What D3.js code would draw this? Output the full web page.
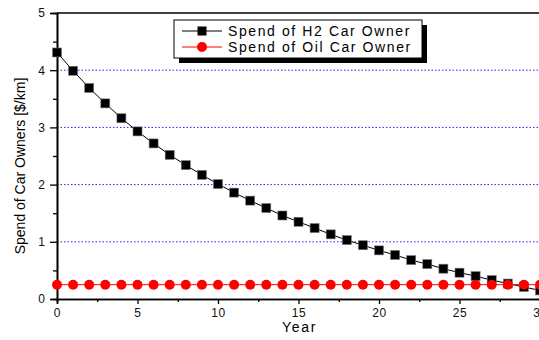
<!DOCTYPE html>
<html>
<head>
<meta charset="utf-8">
<script src="https://cdn.jsdelivr.net/npm/d3@7"></script>
<style>
  body { margin: 0; background: #fff; }
  text { font-family: "Liberation Sans", Arial, sans-serif; }
</style>
</head>
<body>
<div class="chart"></div>
<script>
const years = d3.range(0, 31)
const h2Spend = [4.31, 3.99, 3.69, 3.42, 3.16, 2.93, 2.72, 2.52, 2.34, 2.17, 2.01,
  1.86, 1.72, 1.59, 1.46, 1.35, 1.24, 1.13, 1.03, 0.94, 0.85,
  0.77, 0.68, 0.61, 0.53, 0.46, 0.40, 0.33, 0.27, 0.21, 0.15]
const oilSpend = years.map(() => 0.25)
const seriesNames = ['Spend of H2 Car Owner', 'Spend of Oil Car Owner']
const xTicks = [0, 5, 10, 15, 20, 25, 30]
const yTicks = [0, 1, 2, 3, 4, 5]

const margin = ({top: 13, right: -1, bottom: 41, left: 57})
const width = 539 - margin.left - margin.right
const height = 340 - margin.top - margin.bottom

const svg = d3.select('.chart').append('svg')
    .attr('width', 539)
    .attr('height', 340)
  .append('g')
    .attr('transform', `translate(${margin.left},${margin.top})`)

// SCALES
const xScale = d3.scaleLinear().domain([0, 30]).range([0, width])
const yScale = d3.scaleLinear().domain([0, 5]).range([height, 0])

// GRIDLINES
svg.append('g')
  .selectAll('line')
  .data(yTicks.filter(d => d > 0 && d < 5))
  .join('line')
    .attr('x1', 0)
    .attr('x2', width)
    .attr('y1', d => yScale(d))
    .attr('y2', d => yScale(d))
    .attr('stroke', '#2222ff')
    .attr('stroke-width', 1)
    .attr('stroke-dasharray', '1.5,2')

// AXES
const xAxis = d3.axisBottom(xScale).tickValues(xTicks).tickSize(5).tickPadding(4).tickFormat(d3.format('d'))
const xMinor = d3.axisBottom(xScale).tickValues(d3.range(2.5, 30, 5)).tickSize(3).tickFormat('')
const yAxis = d3.axisLeft(yScale).tickValues(yTicks).tickSize(7).tickPadding(5).tickFormat(d3.format('d'))
const yMinor = d3.axisLeft(yScale).tickValues(d3.range(0.5, 5, 1)).tickSize(4).tickFormat('')

function styleAxis(g) {
  g.select('.domain').attr('stroke-width', 1.6)
  g.selectAll('.tick line').attr('stroke-width', 1.3)
  g.selectAll('.tick text')
    .attr('font-size', 12)
    .attr('fill', '#111')
    .style('font-family', '"Liberation Sans", Arial, sans-serif')
}

svg.append('g').attr('transform', `translate(0,${height})`).call(xMinor).call(styleAxis)
svg.append('g').attr('transform', `translate(0,${height})`).call(xAxis).call(styleAxis)
  .selectAll('.tick text').style('letter-spacing', '0.6px')
svg.append('g').call(yMinor).call(styleAxis)
svg.append('g').call(yAxis).call(styleAxis)

// top frame
svg.append('line')
  .attr('x1', 0).attr('x2', width)
  .attr('y1', 0).attr('y2', 0)
  .attr('stroke', '#000')
  .attr('stroke-width', 1.6)

// AXIS TITLES
svg.append('text')
  .attr('x', width / 2 + 1)
  .attr('y', height + 33)
  .attr('text-anchor', 'middle')
  .attr('font-size', 14)
  .style('letter-spacing', '1.7px')
  .text('Year')

svg.append('text')
  .attr('transform', `translate(${20 - margin.left},${166 - margin.top}) rotate(-90)`)
  .attr('text-anchor', 'middle')
  .attr('dy', '0.35em')
  .attr('font-size', 14)
  .text('Spend of Car Owners [$/km]')

// LINES
const line = d3.line()
  .x((d, i) => xScale(years[i]))
  .y(d => yScale(d))

svg.append('path')
  .datum(h2Spend)
  .attr('d', line)
  .attr('fill', 'none')
  .attr('stroke', '#000')
  .attr('stroke-width', 1)

svg.append('g')
  .selectAll('rect')
  .data(h2Spend)
  .join('rect')
    .attr('x', (d, i) => xScale(years[i]) - 4.5)
    .attr('y', d => yScale(d) - 4.5)
    .attr('width', 9)
    .attr('height', 9)
    .attr('fill', '#000')
    .attr('stroke', '#777')
    .attr('stroke-width', 0.6)

svg.append('path')
  .datum(oilSpend)
  .attr('d', line)
  .attr('fill', 'none')
  .attr('stroke', '#ff0000')
  .attr('stroke-width', 1)

svg.append('g')
  .selectAll('circle')
  .data(oilSpend)
  .join('circle')
    .attr('cx', (d, i) => xScale(years[i]))
    .attr('cy', d => yScale(d))
    .attr('r', 5)
    .attr('fill', '#ff0000')

// LEGEND
const legend = svg.append('g')
  .attr('transform', `translate(${174 - margin.left},${20 - margin.top})`)

legend.append('rect')
  .attr('x', 5).attr('y', 5)
  .attr('width', 248).attr('height', 38)
  .attr('fill', '#000')

legend.append('rect')
  .attr('x', 0).attr('y', 0)
  .attr('width', 248).attr('height', 38)
  .attr('fill', '#fff')
  .attr('stroke', '#000')
  .attr('stroke-width', 1)

const rows = legend.selectAll('g.row')
  .data(seriesNames)
  .join('g')
    .attr('class', 'row')
    .attr('transform', (d, i) => `translate(0,${11 + i * 16})`)

rows.append('line')
  .attr('x1', 8).attr('x2', 48)
  .attr('stroke', (d, i) => i === 0 ? '#000' : '#ff0000')
  .attr('stroke-width', 1)

rows.filter((d, i) => i === 0).append('rect')
  .attr('x', 28 - 4.5).attr('y', -4.5)
  .attr('width', 9).attr('height', 9)
  .attr('fill', '#000')

rows.filter((d, i) => i === 1).append('circle')
  .attr('cx', 28).attr('cy', 0)
  .attr('r', 5)
  .attr('fill', '#ff0000')

rows.append('text')
  .attr('x', 54)
  .attr('y', 5)
  .attr('font-size', 14)
  .style('letter-spacing', '1.6px')
  .text(d => d)
</script>
</body>
</html>
